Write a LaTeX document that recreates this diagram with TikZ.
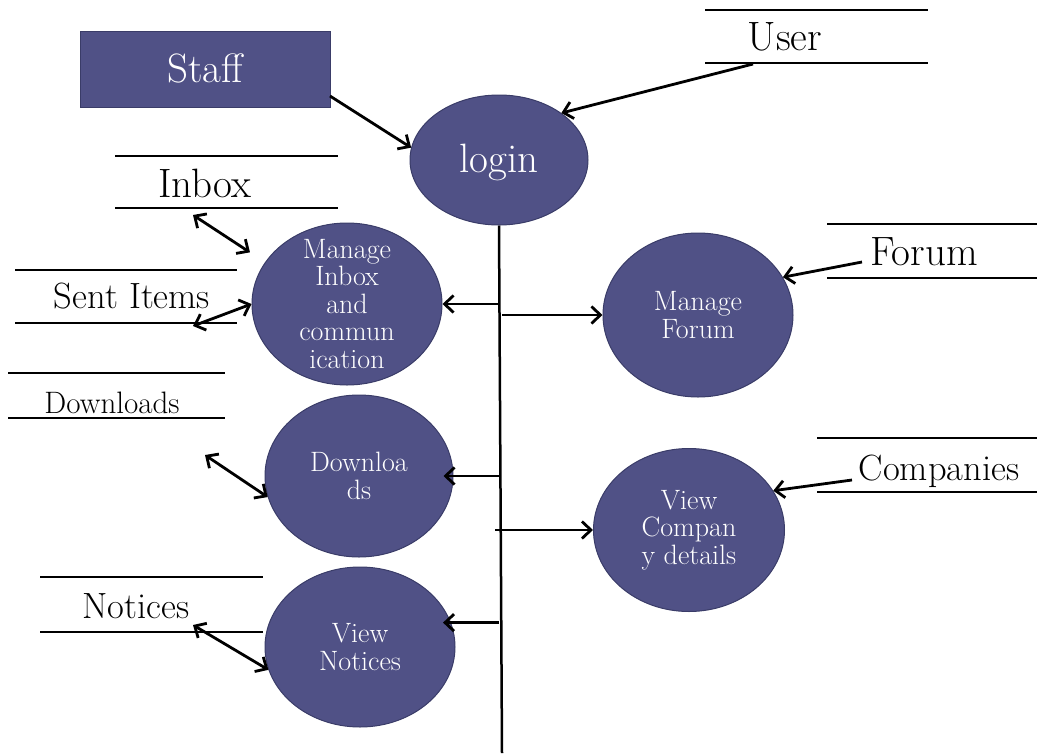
\documentclass[tikz,border=0pt]{standalone}
\usepackage{fontspec}
\usetikzlibrary{calc}
\usetikzlibrary{arrows.meta}
\usetikzlibrary{shapes.geometric}

\definecolor{procblue}{RGB}{80,81,134}
\definecolor{procedge}{RGB}{58,60,104}

\tikzset{
  proc/.style={ellipse, fill=procblue, draw=procedge, line width=1pt, inner sep=0pt},
  proctext/.style={text=white, align=center, font=\fontsize{28}{27.5}\selectfont},
  bigtext/.style={anchor=base, font=\fontsize{41}{43}\selectfont},
  midtext/.style={anchor=base, font=\fontsize{36.5}{38}\selectfont},
  smalltext/.style={anchor=base, font=\fontsize{31}{33}\selectfont},
  store/.style={line width=2.5pt},
  flow/.style={line width=2.8pt, -{Straight Barb[length=9pt,width=17pt]}},
  flowboth/.style={line width=2.8pt, {Straight Barb[length=9pt,width=17pt]}-{Straight Barb[length=9pt,width=17pt]}}
}

\begin{document}
\begin{tikzpicture}[x=1pt, y=-1pt]
\useasboundingbox (0,0) rectangle (1037,753);

% processes
\node[rectangle, fill=procblue, draw=procedge, line width=1pt, minimum width=250pt, minimum height=76pt] (staff) at (205,69) {};
\node[bigtext, text=white] (stafft) at (205,82) {Staff};
\node[proc, minimum width=178pt, minimum height=130pt] (login) at (499,160) {};
\node[bigtext, text=white] (logint) at (499,172) {login};
\node[proc, minimum width=190pt, minimum height=162pt, label={[proctext]center:{Manage\\Inbox\\and\\commun\\ication}}] (mInbox) at (347,304) {};
\node[proc, minimum width=190pt, minimum height=164pt, label={[proctext]center:{Manage\\Forum}}] (mForum) at (698,315) {};
\node[proc, minimum width=188pt, minimum height=162pt, label={[proctext]center:{Downloa\\ds}}] (dl) at (359,476) {};
\node[proc, minimum width=191pt, minimum height=163pt, label={[proctext]center:{View\\Compan\\y details}}] (vComp) at (689,530) {};
\node[proc, minimum width=190pt, minimum height=160pt, label={[proctext]center:{View\\Notices}}] (vNot) at (360,647) {};

% data stores
\draw[store] (705,10) -- (928,10);
\draw[store] (705,63) -- (928,63);
\node[bigtext] (user) at (785,50) {User};
\draw[store] (115,156) -- (338,156);
\draw[store] (115,208) -- (338,208);
\node[bigtext] (inbox) at (205,197) {Inbox};
\draw[store] (15,270) -- (237,270);
\draw[store] (15,323) -- (237,323);
\node[midtext] (sent) at (132,308) {Sent Items};
\draw[store] (8,373) -- (225,373);
\draw[store] (8,418) -- (225,418);
\node[smalltext] (downl) at (112,413) {Downloads};
\draw[store] (40,577) -- (263,577);
\draw[store] (40,632) -- (263,632);
\node[midtext] (notices) at (136,618) {Notices};
\draw[store] (827,224) -- (1037,224);
\draw[store] (827,278) -- (1037,278);
\node[bigtext] (forum) at (924,265) {Forum};
\draw[store] (817,438) -- (1037,438);
\draw[store] (817,492) -- (1037,492);
\node[midtext] (comp) at (939,480) {Companies};

\coordinate (S) at (330,96);
\coordinate (U) at (753,64);
\coordinate (I) at (193,215);
\coordinate (SI) at (193,326);
\coordinate (D) at (205,455);
\coordinate (N) at (193,625);
\coordinate (F) at (862,262);
\coordinate (C) at (852,480);
\coordinate (T) at (502,753);

% flows
\draw[flow] (S) -- (login.172);
\draw[flow] (U) -- (login.37);
\draw[flowboth, shorten >=18pt] (I) -- (mInbox.153);
\draw[flowboth] (SI) -- (mInbox.west);
\draw[flowboth] (D) -- (dl.193);
\draw[flowboth] (N) -- (vNot.194);
\draw[flow] (F) -- (mForum.24);
\draw[flow] (C) -- (vComp.25);

\draw[line width=2.5pt] (login.south) -- (T);
\draw[flow] (login.south |- mInbox.east) -- (mInbox.east);
\draw[flow] ($(login.south |- mForum.west)+(3,0)$) -- (mForum.west);
\draw[flow, shorten >=-10pt] (login.south |- dl.east) -- (dl.east);
\draw[flow] ($(login.south |- vComp.west)+(-4,0)$) -- (vComp.west);
\draw[flow, shorten >=-8pt] (login.south |- vNot.15) -- (vNot.15);

\end{tikzpicture}
\end{document}
